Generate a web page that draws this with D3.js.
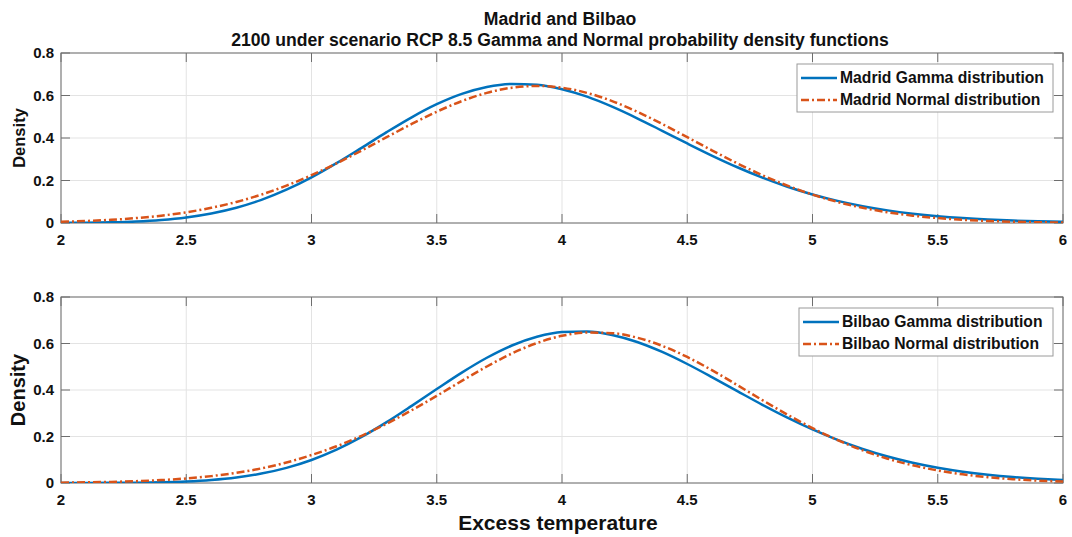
<!DOCTYPE html>
<html>
<head>
<meta charset="utf-8">
<script src="https://cdn.jsdelivr.net/npm/d3@7/dist/d3.min.js"></script>
<style>
  body { margin: 0; background: #fff; }
  svg { display: block; font-family: "Liberation Sans", Arial, sans-serif; font-weight: bold; }
</style>
</head>
<body>
<svg id="chart" width="1072" height="537"></svg>
<script>
// excess temperature grid (x)
const temps = [2.0, 2.1, 2.2, 2.3, 2.4, 2.5, 2.6, 2.7, 2.8, 2.9,
  3.0, 3.1, 3.2, 3.3, 3.4, 3.5, 3.6, 3.7, 3.8, 3.9,
  4.0, 4.1, 4.2, 4.3, 4.4, 4.5, 4.6, 4.7, 4.8, 4.9,
  5.0, 5.1, 5.2, 5.3, 5.4, 5.5, 5.6, 5.7, 5.8, 5.9, 6.0];

// densities
const madridGamma = [0.0006, 0.0015, 0.0035, 0.0074, 0.0145, 0.0263, 0.0448, 0.0718, 0.1088, 0.1566,
  0.2148, 0.2816, 0.3538, 0.4275, 0.4974, 0.5589, 0.6074, 0.6399, 0.6543, 0.6504,
  0.6296, 0.5944, 0.5473, 0.4928, 0.4339, 0.3742, 0.3163, 0.2623, 0.2135, 0.1708,
  0.1344, 0.1040, 0.0792, 0.0594, 0.0440, 0.0321, 0.0231, 0.0164, 0.0115, 0.0080, 0.0055];
const madridNormal = [0.0059, 0.0095, 0.0150, 0.0231, 0.0346, 0.0504, 0.0716, 0.0991, 0.1337, 0.1757,
  0.2249, 0.2806, 0.3410, 0.4038, 0.4660, 0.5238, 0.5737, 0.6123, 0.6367, 0.6450,
  0.6367, 0.6123, 0.5737, 0.5238, 0.4660, 0.4038, 0.3410, 0.2806, 0.2249, 0.1757,
  0.1337, 0.0991, 0.0716, 0.0504, 0.0346, 0.0231, 0.0150, 0.0095, 0.0059, 0.0036, 0.0021];
const bilbaoGamma = [0.0001, 0.0002, 0.0006, 0.0015, 0.0033, 0.0068, 0.0132, 0.0238, 0.0405, 0.0651,
  0.0991, 0.1435, 0.1981, 0.2618, 0.3319, 0.4042, 0.4749, 0.5388, 0.5914, 0.6288,
  0.6494, 0.6518, 0.6369, 0.6066, 0.5637, 0.5118, 0.4544, 0.3950, 0.3363, 0.2809,
  0.2302, 0.1853, 0.1465, 0.1139, 0.0871, 0.0657, 0.0488, 0.0357, 0.0257, 0.0183, 0.0129];
const bilbaoNormal = [0.0016, 0.0028, 0.0048, 0.0078, 0.0125, 0.0195, 0.0296, 0.0437, 0.0628, 0.0881,
  0.1203, 0.1580, 0.2030, 0.2550, 0.3130, 0.3750, 0.4390, 0.5010, 0.5570, 0.6020,
  0.6330, 0.6472, 0.6445, 0.6250, 0.5900, 0.5420, 0.4842, 0.4210, 0.3565, 0.2940,
  0.2360, 0.1845, 0.1405, 0.1045, 0.0760, 0.0540, 0.0372, 0.0250, 0.0164, 0.0104, 0.0064];

const xTicks = [2, 2.5, 3, 3.5, 4, 4.5, 5, 5.5, 6];
const yTicks = [0, 0.2, 0.4, 0.6, 0.8];
const titleLines = ["Madrid and Bilbao", "2100 under scenario RCP 8.5 Gamma and Normal probability density functions"];

const blue = "#0072BD", orange = "#D95319";
const svg = d3.select("#chart");
svg.append("rect").attr("width", 1072).attr("height", 537).attr("fill", "#fff");

const left = 61, right = 1063;
const x = d3.scaleLinear().domain([2, 6]).range([left, right]);

// title
svg.selectAll(".title")
  .data(titleLines)
  .join("text")
  .attr("x", 560).attr("y", (d, i) => 19 + i * 21)
  .attr("dy", "0.35em")
  .attr("text-anchor", "middle")
  .attr("font-size", 17.6)
  .attr("fill", "#111")
  .text(d => d);

function drawPanel(cfg) {
  const y = d3.scaleLinear().domain([0, 0.8]).range([cfg.bottom, cfg.top]);
  const g = svg.append("g");
  const clipId = "clip" + cfg.top;

  g.append("clipPath").attr("id", clipId)
    .append("rect").attr("x", left).attr("y", cfg.top)
    .attr("width", right - left).attr("height", cfg.bottom - cfg.top);

  // grid
  g.selectAll(".gx").data(xTicks).join("line")
    .attr("x1", d => x(d)).attr("x2", d => x(d))
    .attr("y1", cfg.top).attr("y2", cfg.bottom)
    .attr("stroke", "#e3e3e3");
  g.selectAll(".gy").data(yTicks).join("line")
    .attr("x1", left).attr("x2", right)
    .attr("y1", d => y(d)).attr("y2", d => y(d))
    .attr("stroke", "#e3e3e3");

  // box with inward ticks
  const axisColor = "#6e6e6e";
  g.append("rect").attr("x", left).attr("y", cfg.top)
    .attr("width", right - left).attr("height", cfg.bottom - cfg.top)
    .attr("fill", "none").attr("stroke", axisColor);
  const tl = 9;
  xTicks.forEach(t => {
    g.append("line").attr("x1", x(t)).attr("x2", x(t)).attr("y1", cfg.bottom).attr("y2", cfg.bottom - tl).attr("stroke", axisColor);
    g.append("line").attr("x1", x(t)).attr("x2", x(t)).attr("y1", cfg.top).attr("y2", cfg.top + tl).attr("stroke", axisColor);
  });
  yTicks.forEach(t => {
    g.append("line").attr("x1", left).attr("x2", left + tl).attr("y1", y(t)).attr("y2", y(t)).attr("stroke", axisColor);
    g.append("line").attr("x1", right).attr("x2", right - tl).attr("y1", y(t)).attr("y2", y(t)).attr("stroke", axisColor);
  });

  // tick labels
  g.selectAll(".xl").data(xTicks).join("text")
    .attr("x", d => x(d)).attr("y", cfg.bottom + 17)
    .attr("dy", "0.35em").attr("text-anchor", "middle")
    .attr("font-size", 15).attr("fill", "#111")
    .text(d => d3.format("~g")(d));
  g.selectAll(".yl").data(yTicks).join("text")
    .attr("x", left - 7).attr("y", d => y(d))
    .attr("dy", "0.35em").attr("text-anchor", "end")
    .attr("font-size", 15).attr("fill", "#111")
    .text(d => d3.format("~g")(d));

  // y label
  g.append("text")
    .attr("transform", `translate(${cfg.ylabX},${(cfg.top + cfg.bottom) / 2}) rotate(-90)`)
    .attr("text-anchor", "middle").attr("dy", "0.35em")
    .attr("font-size", cfg.ylabSize).attr("fill", "#111")
    .text("Density");

  // curves
  const line = d3.line()
    .x((d, i) => x(temps[i]))
    .y(d => y(d))
    .curve(d3.curveMonotoneX);
  const curves = g.append("g").attr("clip-path", `url(#${clipId})`);
  curves.append("path").datum(cfg.gamma)
    .attr("d", line).attr("fill", "none")
    .attr("stroke", blue).attr("stroke-width", 2.5);
  curves.append("path").datum(cfg.normal)
    .attr("d", line).attr("fill", "none")
    .attr("stroke", orange).attr("stroke-width", 2.5)
    .attr("stroke-dasharray", "8,3,2,3");

  // legend
  const lg = g.append("g");
  lg.append("rect").attr("x", cfg.leg.x).attr("y", cfg.leg.y)
    .attr("width", cfg.leg.w).attr("height", 48)
    .attr("fill", "#fff").attr("stroke", "#9a9a9a");
  const items = [
    { label: cfg.name + " Gamma distribution", color: blue, dash: null },
    { label: cfg.name + " Normal distribution", color: orange, dash: "8,3,2,3" }
  ];
  items.forEach((it, i) => {
    const yy = cfg.leg.y + 14 + i * 22;
    lg.append("line").attr("x1", cfg.leg.x + 4).attr("x2", cfg.leg.x + 40)
      .attr("y1", yy).attr("y2", yy)
      .attr("stroke", it.color).attr("stroke-width", 2.5)
      .attr("stroke-dasharray", it.dash);
    lg.append("text").attr("x", cfg.leg.x + 43).attr("y", yy)
      .attr("dy", "0.35em").attr("font-size", 15.7).attr("fill", "#111")
      .text(it.label);
  });
}

drawPanel({ top: 53, bottom: 223, name: "Madrid", gamma: madridGamma, normal: madridNormal,
  ylabX: 19, ylabSize: 16.5, leg: { x: 797, y: 64, w: 256 } });
drawPanel({ top: 297, bottom: 483, name: "Bilbao", gamma: bilbaoGamma, normal: bilbaoNormal,
  ylabX: 18, ylabSize: 20, leg: { x: 799, y: 308, w: 254 } });

// shared x label
svg.append("text")
  .attr("x", 558).attr("y", 523).attr("dy", "0.35em")
  .attr("text-anchor", "middle").attr("font-size", 21).attr("fill", "#111")
  .text("Excess temperature");
</script>
</body>
</html>
